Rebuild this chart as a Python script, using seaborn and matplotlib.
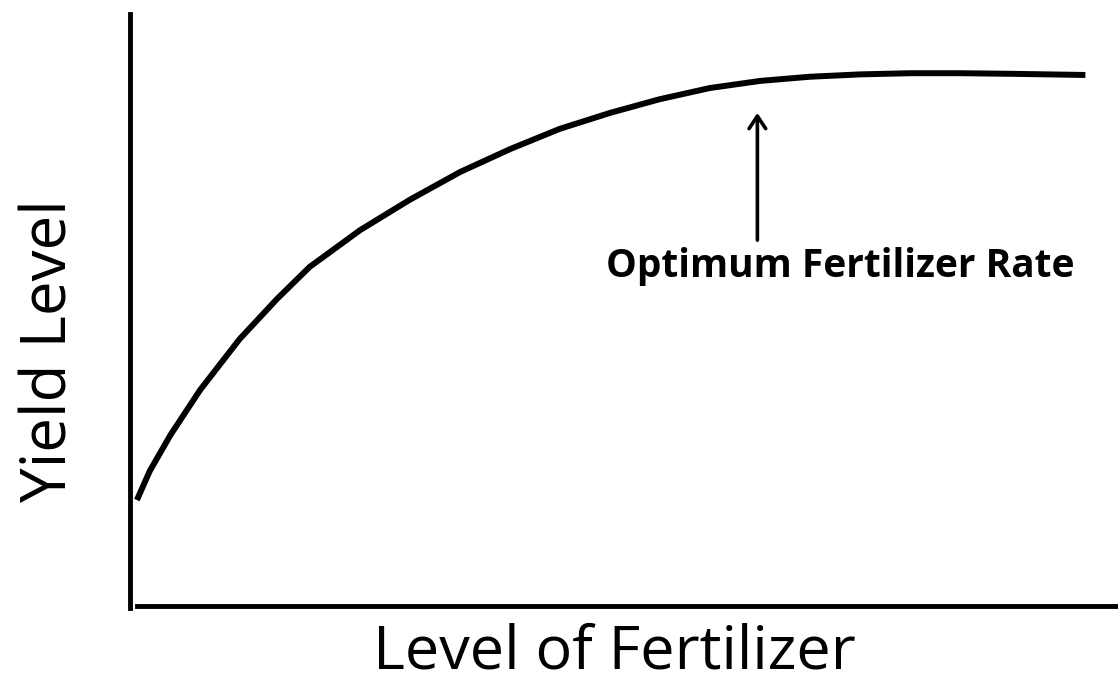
import matplotlib
matplotlib.use("Agg")
import matplotlib.pyplot as plt
import seaborn as sns
import pandas as pd

# curve (arbitrary 0-100 units)
fertilizer = [0.7, 2.0, 4.1, 7.1, 11.1, 14.9, 18.2, 23.3, 28.3, 33.4, 38.5,
              43.5, 48.6, 53.6, 58.7, 63.8, 68.8, 73.9, 79.0, 84.0, 89.1, 96.7]
yield_level = [17.9, 22.8, 28.9, 36.5, 45.1, 51.9, 57.3, 63.5, 68.6, 73.3, 77.2,
               80.6, 83.3, 85.6, 87.5, 88.7, 89.4, 89.8, 90.0, 90.0, 89.9, 89.7]

optimum_x = 63.5
arrow_from = 61.8
arrow_to = 83.3
note = "Optimum Fertilizer Rate"

sns.set_style("white")
plt.rcParams['font.family'] = ['Open Sans', 'DejaVu Sans']
plt.rcParams['text.color'] = 'black'
plt.rcParams['axes.labelcolor'] = 'black'

df = pd.DataFrame({"fert": fertilizer, "yld": yield_level})

fig = plt.figure(figsize=(11.18, 6.86), dpi=100)
ax = fig.add_axes([130 / 1118, 80 / 686, 988 / 1118, 592 / 686])

sns.lineplot(data=df, x="fert", y="yld", ax=ax, color="black", linewidth=4.3,
             solid_capstyle="butt", solid_joinstyle="round")

ax.set_xlim(0, 100)
ax.set_ylim(0, 100)
ax.set_xticks([])
ax.set_yticks([])
sns.despine(ax=ax, top=True, right=True)
for s in ["left", "bottom"]:
    ax.spines[s].set_linewidth(3.5)
    ax.spines[s].set_color("black")
ax.spines["bottom"].set_bounds(0.7, 100)
ax.spines["left"].set_bounds(-0.3, 100)

ax.annotate("", xy=(optimum_x, arrow_to), xytext=(optimum_x, arrow_from),
            arrowprops=dict(arrowstyle="->,head_length=0.9,head_width=0.6",
                            color="black", lw=2.6, shrinkA=0, shrinkB=0))
ax.text(71.9, 55.6, note, ha="center", va="baseline", fontsize=28,
        fontweight="bold", color="black")

ax.set_xlabel("Level of Fertilizer", fontsize=44, color="black")
ax.set_ylabel("Yield Level", fontsize=44.6, color="black")
ax.xaxis.label.set_va("baseline")
ax.xaxis.set_label_coords(0.49, -0.106)
ax.yaxis.set_label_coords(-0.0486, 0.431)

fig.savefig("out.png", dpi=100)
